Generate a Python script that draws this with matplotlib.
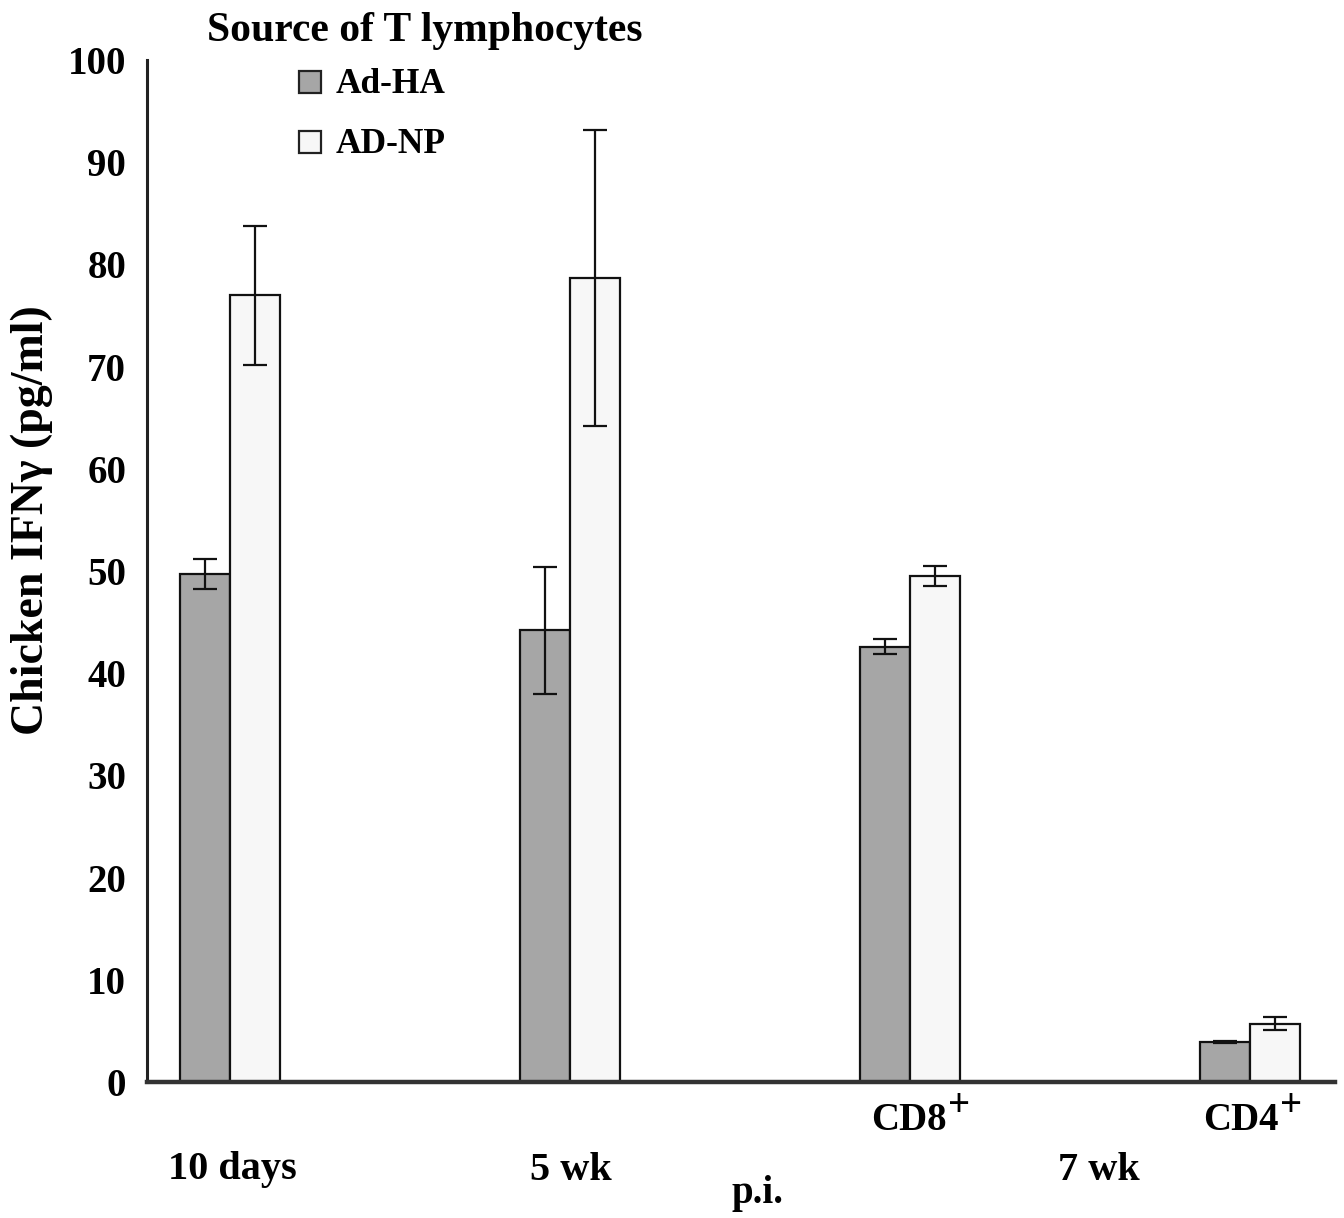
import matplotlib
matplotlib.use("Agg")
import matplotlib.pyplot as plt
from matplotlib.patches import Rectangle
import numpy as np

plt.rcParams['font.family'] = ['Liberation Serif', 'DejaVu Serif']
plt.rcParams['font.weight'] = 'bold'

groups = ["10 days", "5 wk", "CD8", "CD4"]
series_names = ["Ad-HA", "AD-NP"]
ad_ha = [49.7, 44.2, 42.6, 3.9]
ad_ha_err = [1.5, 6.2, 0.7, 0.1]
ad_np = [77.0, 78.7, 49.5, 5.7]
ad_np_err = [6.8, 14.5, 1.0, 0.65]
yticks = [0, 10, 20, 30, 40, 50, 60, 70, 80, 90, 100]
colors = ['#a6a6a6', '#f7f7f7']

W, H = 1344, 1218
fig = plt.figure(figsize=(W / 100, H / 100), dpi=100)
ax = fig.add_axes([0.1094, 0.1117, 0.8836, 0.839])

def fx(px):
    return px / W

def fy(py):
    return 1 - py / H

x = np.arange(len(groups))
w = 0.147
ekw = dict(elinewidth=1.6, capthick=1.6, ecolor='#111111')
ax.bar(x - w/2, ad_ha, w, color=colors[0], edgecolor='#111111', linewidth=1.6,
       yerr=ad_ha_err, capsize=8.5, error_kw=ekw, label=series_names[0], zorder=2)
ax.bar(x + w/2, ad_np, w, color=colors[1], edgecolor='#111111', linewidth=1.6,
       yerr=ad_np_err, capsize=8.5, error_kw=ekw, label=series_names[1], zorder=2)

ax.set_xlim(-0.244, 3.25)
ax.set_ylim(0, 100)
ax.set_yticks(yticks)
ax.set_yticklabels([str(t) for t in yticks], fontsize=28, fontweight='bold')
ax.tick_params(axis='y', length=0, pad=15)
ax.set_xticks([])
for s in ['top', 'right']:
    ax.spines[s].set_visible(False)
ax.spines['left'].set_linewidth(2.2)
ax.spines['left'].set_color('#222222')
ax.spines['bottom'].set_linewidth(3.2)
ax.spines['bottom'].set_color('#333333')

# cell-type labels under the 7 wk bars (with raised full-size "+")
for name, cx in [(groups[2], 909), (groups[3], 1241)]:
    fig.text(fx(cx), fy(1121), name, ha='center', va='center', fontsize=28, fontweight='bold')
    fig.text(fx(cx + 39), fy(1106), "+", ha='left', va='center', fontsize=28, fontweight='bold')
# time point labels
fig.text(fx(232), fy(1170), groups[0], ha='center', va='center', fontsize=29, fontweight='bold')
fig.text(fx(571), fy(1170), groups[1], ha='center', va='center', fontsize=29, fontweight='bold')
fig.text(fx(1099), fy(1170), "7 wk", ha='center', va='center', fontsize=29, fontweight='bold')
fig.text(fx(758), fy(1193), "p.i.", ha='center', va='center', fontsize=28, fontweight='bold')

fig.text(fx(32), fy(520), "Chicken IFN\u03b3 (pg/ml)", rotation=90, ha='center', va='center',
         fontsize=33, fontweight='bold')

fig.text(fx(207), fy(31), "Source of T lymphocytes", ha='left', va='center',
         fontsize=30, fontweight='bold')

# legend entries
for i, (name, cy) in enumerate(zip(series_names, [81.5, 141.5])):
    fig.patches.append(Rectangle((fx(299), fy(cy + 11)), 22 / W, 22 / H,
                                 transform=fig.transFigure, facecolor=colors[i],
                                 edgecolor='#222222', linewidth=1.6))
    fig.text(fx(336), fy(cy + 3), name, ha='left', va='center', fontsize=25.5, fontweight='bold')

fig.savefig("out.png", dpi=100, facecolor='white')
